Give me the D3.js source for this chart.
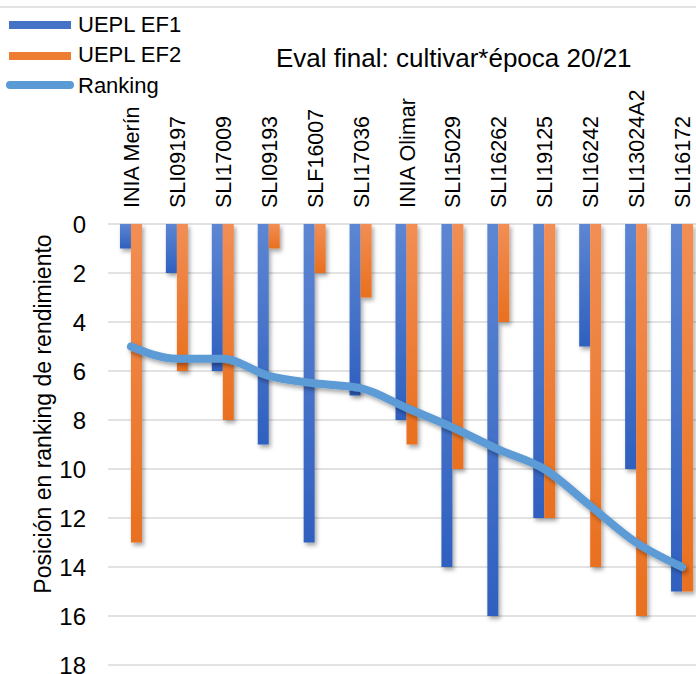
<!DOCTYPE html>
<html>
<head>
<meta charset="utf-8">
<script src="https://cdn.jsdelivr.net/npm/d3@7"></script>
<style>
  body { margin: 0; background: #fff; }
  text { font-family: "Liberation Sans", Arial, sans-serif; fill: #000; }
</style>
</head>
<body>
<div id="chart-area"></div>
<script>
// data
var cultivars = ["INIA Merín", "SLI09197", "SLI17009", "SLI09193", "SLF16007", "SLI17036",
    "INIA Olimar", "SLI15029", "SLI16262", "SLI19125", "SLI16242", "SLI13024A2", "SLI16172"];
var ef1 = [1, 2, 6, 9, 13, 7, 8, 14, 16, 12, 5, 10, 15];
var ef2 = [13, 6, 8, 1, 2, 3, 9, 10, 4, 12, 14, 16, 15];
var ranking = [5, 5.5, 5.5, 6.2, 6.5, 6.7, 7.5, 8.3, 9.2, 10, 11.5, 13, 14];
var yTicks = [0, 2, 4, 6, 8, 10, 12, 14, 16, 18];
var seriesNames = ["UEPL EF1", "UEPL EF2", "Ranking"];

var W = 696, H = 674;
var svg = d3.select("#chart-area").append("svg")
    .attr("width", W)
    .attr("height", H);

var defs = svg.append("defs");
var shadow = defs.append("filter").attr("id", "shadow")
    .attr("x", "-50%").attr("y", "-10%").attr("width", "200%").attr("height", "130%");
shadow.append("feDropShadow")
    .attr("dx", 2).attr("dy", 3).attr("stdDeviation", 2)
    .attr("flood-color", "#000").attr("flood-opacity", 0.35);

function grad(id, top, bottom) {
    var g = defs.append("linearGradient").attr("id", id)
        .attr("x1", 0).attr("y1", 0).attr("x2", 0).attr("y2", 1);
    g.append("stop").attr("offset", "0%").attr("stop-color", top);
    g.append("stop").attr("offset", "100%").attr("stop-color", bottom);
}
grad("gBlue", "#5d86d2", "#2f60bf");
grad("gOrange", "#f28e54", "#e9701f");

// top border
svg.append("line")
    .attr("x1", 0).attr("x2", W).attr("y1", 7).attr("y2", 7)
    .attr("stroke", "#d9d9d9").attr("stroke-width", 1.5);

var x = d3.scaleBand()
    .domain(cultivars)
    .range([108, 705]);

var y = d3.scaleLinear()
    .domain([0, 18])
    .range([224, 665]);

// gridlines
svg.append("g").selectAll("line")
    .data(yTicks)
    .enter().append("line")
        .attr("x1", 108).attr("x2", W)
        .attr("y1", (d) => y(d)).attr("y2", (d) => y(d))
        .attr("stroke", "#d9d9d9").attr("stroke-width", 1.5);

// y axis labels
var yAxis = d3.axisLeft(y).tickValues(yTicks).tickSize(0).tickPadding(0);
var ya = svg.append("g").attr("transform", "translate(86,0)").call(yAxis);
ya.select(".domain").remove();
ya.selectAll("text")
    .attr("font-size", 24)
    .attr("dy", "0.36em")
    .style("font-family", "'Liberation Sans', Arial, sans-serif")
    .attr("fill", "#000");

// y axis title
svg.append("text")
    .attr("transform", "translate(51,414) rotate(-90)")
    .attr("text-anchor", "middle")
    .attr("font-size", 23)
    .text("Posición en ranking de rendimiento");

// category labels
svg.append("g").selectAll("text")
    .data(cultivars)
    .enter().append("text")
        .attr("transform", (d) => "translate(" + (x(d) + x.bandwidth() / 2 + 8) + ",208) rotate(-90)")
        .attr("font-size", 21.5)
        .text((d) => d);

// bars
var bw = 11;
var bars = svg.append("g").attr("filter", "url(#shadow)");
bars.selectAll("rect.ef1")
    .data(ef1)
    .enter().append("rect")
        .attr("class", "ef1")
        .attr("x", (d, i) => x(cultivars[i]) + x.bandwidth() / 2 - bw)
        .attr("y", y(0))
        .attr("width", bw)
        .attr("height", (d) => y(d) - y(0))
        .attr("fill", "url(#gBlue)");
bars.selectAll("rect.ef2")
    .data(ef2)
    .enter().append("rect")
        .attr("class", "ef2")
        .attr("x", (d, i) => x(cultivars[i]) + x.bandwidth() / 2)
        .attr("y", y(0))
        .attr("width", bw)
        .attr("height", (d) => y(d) - y(0))
        .attr("fill", "url(#gOrange)");

// ranking line
var line = d3.line()
    .x((d, i) => x(cultivars[i]) + x.bandwidth() / 2)
    .y((d) => y(d))
    .curve(d3.curveMonotoneX);
svg.append("path")
    .datum(ranking)
    .attr("d", line)
    .attr("fill", "none")
    .attr("stroke", "#5b9bd5")
    .attr("stroke-width", 8)
    .attr("stroke-linecap", "round")
    .attr("stroke-linejoin", "round")
    .attr("filter", "url(#shadow)");

// legend
var legend = svg.append("g");
legend.append("rect").attr("x", 9).attr("y", 21).attr("width", 62).attr("height", 8).attr("fill", "#4472c4");
legend.append("rect").attr("x", 9).attr("y", 52).attr("width", 62).attr("height", 8).attr("fill", "#ed7d31");
legend.append("line").attr("x1", 10).attr("x2", 70).attr("y1", 85).attr("y2", 85)
    .attr("stroke", "#5b9bd5").attr("stroke-width", 8).attr("stroke-linecap", "round");
legend.selectAll("text")
    .data(seriesNames)
    .enter().append("text")
        .attr("x", 78)
        .attr("y", (d, i) => [32, 62, 93][i])
        .attr("font-size", 22)
        .text((d) => d);

// title
svg.append("text")
    .attr("x", 276)
    .attr("y", 67)
    .attr("font-size", 26)
    .text("Eval final: cultivar*época 20/21");
</script>
</body>
</html>
